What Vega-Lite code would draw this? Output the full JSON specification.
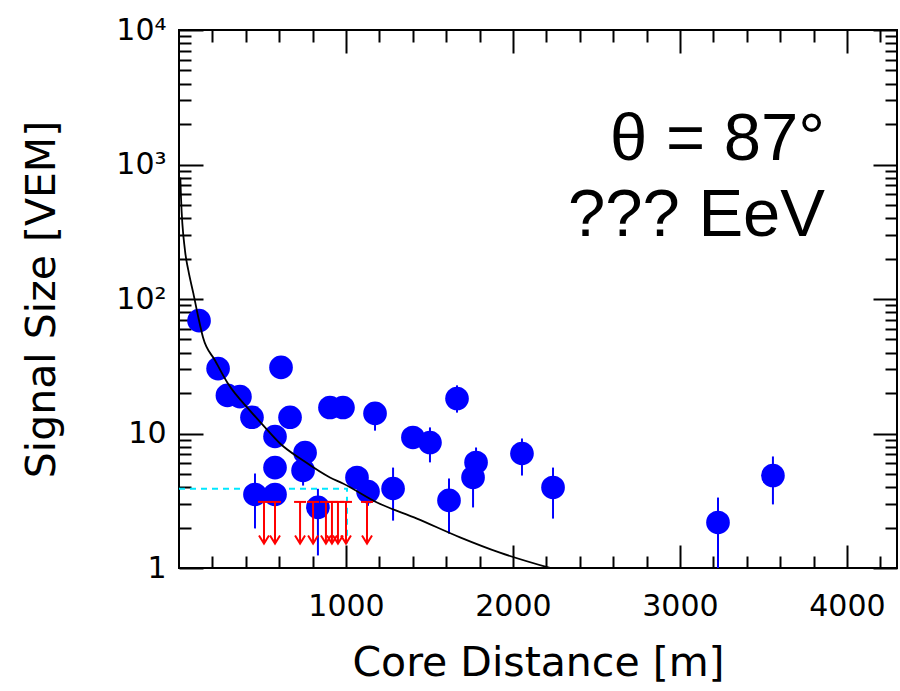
{
  "$schema": "https://vega.github.io/schema/vega-lite/v6.json",
  "width": 718,
  "height": 538,
  "autosize": {"type": "none"},
  "padding": {"left": 179, "top": 30, "right": 3, "bottom": 123},
  "background": "white",
  "config": {
    "view": {"stroke": "black", "strokeWidth": 2},
    "axis": {
      "domain": false, "grid": false, "tickColor": "black", "tickWidth": 2,
      "labelFont": "DejaVu Sans", "labelFontSize": 30, "labelColor": "black",
      "titleFont": "DejaVu Sans", "titleFontSize": 41, "titleFontWeight": "normal", "titleColor": "black",
      "labelFlush": false, "labelOverlap": false, "minExtent": 0, "maxExtent": 0
    }
  },
  "datasets": {
    "points": [
      {"x": 120, "y": 69, "lo": 63, "hi": 76},
      {"x": 234, "y": 30.4, "lo": 27.5, "hi": 33.5},
      {"x": 290, "y": 19.2, "lo": 17.2, "hi": 21.4},
      {"x": 365, "y": 18.8, "lo": 16.8, "hi": 21},
      {"x": 437, "y": 13.2, "lo": 11.6, "hi": 15},
      {"x": 611, "y": 31, "lo": 28, "hi": 34.5},
      {"x": 665, "y": 13.2, "lo": 11, "hi": 15.2},
      {"x": 904, "y": 15.6, "lo": 14, "hi": 17.4},
      {"x": 982, "y": 15.6, "lo": 14, "hi": 17.4},
      {"x": 1174, "y": 14.1, "lo": 10.5, "hi": 14.8},
      {"x": 575, "y": 9.5, "lo": 8.0, "hi": 10.8},
      {"x": 755, "y": 7.2, "lo": 6.2, "hi": 8.3},
      {"x": 1401, "y": 9.34, "lo": 7.8, "hi": 10.5},
      {"x": 1503, "y": 8.57, "lo": 6.1, "hi": 11.1},
      {"x": 1665, "y": 18.2, "lo": 14.3, "hi": 22.8},
      {"x": 1779, "y": 6.09, "lo": 5.2, "hi": 7.87},
      {"x": 1761, "y": 4.71, "lo": 2.82, "hi": 5.5},
      {"x": 2054, "y": 7.1, "lo": 4.87, "hi": 9.18},
      {"x": 2240, "y": 3.97, "lo": 2.33, "hi": 5.58},
      {"x": 1617, "y": 3.18, "lo": 1.8, "hi": 4.63},
      {"x": 1282, "y": 3.9, "lo": 2.25, "hi": 5.58},
      {"x": 1066, "y": 4.71, "lo": 4.0, "hi": 5.3},
      {"x": 1132, "y": 3.7, "lo": 2.9, "hi": 4.4},
      {"x": 575, "y": 5.58, "lo": 4.8, "hi": 6.5},
      {"x": 743, "y": 5.31, "lo": 4.1, "hi": 6.2},
      {"x": 455, "y": 3.52, "lo": 1.97, "hi": 5.04},
      {"x": 575, "y": 3.52, "lo": 3.0, "hi": 4.1},
      {"x": 832, "y": 2.82, "lo": 1.24, "hi": 3.88},
      {"x": 3228, "y": 2.18, "lo": 1.0, "hi": 3.34},
      {"x": 3557, "y": 4.87, "lo": 2.97, "hi": 6.75}
    ],
    "curve": [
      {"x": 8, "y": 800}, {"x": 12, "y": 569}, {"x": 36, "y": 229}, {"x": 56, "y": 163},
      {"x": 86, "y": 110}, {"x": 116, "y": 72.9}, {"x": 144, "y": 51.7}, {"x": 216, "y": 34.9},
      {"x": 293, "y": 23.5}, {"x": 425, "y": 14.8}, {"x": 515, "y": 11.1}, {"x": 605, "y": 8.43},
      {"x": 743, "y": 6.3}, {"x": 904, "y": 4.71}, {"x": 982, "y": 4.25}, {"x": 1186, "y": 3.07},
      {"x": 1425, "y": 2.33}, {"x": 1683, "y": 1.69}, {"x": 1922, "y": 1.3}, {"x": 2222, "y": 1.0}
    ],
    "limits": [
      {"x": 509, "top": 3.1, "bottom": 1.52},
      {"x": 575, "top": 3.1, "bottom": 1.52},
      {"x": 725, "top": 3.1, "bottom": 1.52},
      {"x": 803, "top": 3.1, "bottom": 1.52},
      {"x": 880, "top": 3.1, "bottom": 1.52},
      {"x": 916, "top": 3.1, "bottom": 1.52},
      {"x": 952, "top": 3.1, "bottom": 1.52},
      {"x": 1000, "top": 3.1, "bottom": 1.52},
      {"x": 1126, "top": 3.1, "bottom": 1.52}
    ],
    "cyan": [
      {"i": 0, "x": 0, "y": 3.88},
      {"i": 1, "x": 1006, "y": 3.88},
      {"i": 2, "x": 1006, "y": 1.52}
    ]
  },
  "resolve": {"axis": {"x": "independent", "y": "independent"}},
  "layer": [
    {
      "data": {"name": "cyan"},
      "mark": {"type": "line", "color": "#00e8ff", "strokeWidth": 2, "strokeDash": [6, 5]},
      "encoding": {
        "x": {"field": "x", "type": "quantitative", "scale": {"domain": [0, 4300], "nice": false, "zero": false},
              "axis": {"orient": "top", "values": [200,400,600,800,1200,1400,1600,1800,2200,2400,2600,2800,3200,3400,3600,3800,4200], "tickSize": -12, "labels": false, "title": null}},
        "y": {"field": "y", "type": "quantitative", "scale": {"type": "log", "domain": [1, 10000], "nice": false},
              "axis": {"orient": "right", "values": [2,3,4,5,6,7,8,9,20,30,40,50,60,70,80,90,200,300,400,500,600,700,800,900,2000,3000,4000,5000,6000,7000,8000,9000], "tickSize": -12, "labels": false, "title": null}},
        "order": {"field": "i", "type": "quantitative"}
      }
    },
    {
      "data": {"name": "points"},
      "mark": {"type": "rule", "color": "#0000ff", "strokeWidth": 2},
      "encoding": {
        "x": {"field": "x", "type": "quantitative", "scale": {"domain": [0, 4300], "nice": false, "zero": false},
              "axis": {"orient": "top", "values": [1000, 2000, 3000, 4000], "tickSize": -23, "labels": false, "title": null}},
        "y": {"field": "lo", "type": "quantitative", "scale": {"type": "log", "domain": [1, 10000], "nice": false},
              "axis": {"orient": "right", "values": [1, 10, 100, 1000, 10000], "tickSize": -24, "labels": false, "title": null}},
        "y2": {"field": "hi"}
      }
    },
    {
      "data": {"name": "points"},
      "mark": {"type": "point", "filled": true, "shape": "circle", "color": "#0000ff", "opacity": 1, "size": 560},
      "encoding": {
        "x": {"field": "x", "type": "quantitative", "scale": {"domain": [0, 4300], "nice": false, "zero": false},
              "axis": {"orient": "bottom", "values": [1000, 2000, 3000, 4000], "format": "d", "tickSize": -23, "labelPadding": 46, "title": null}},
        "y": {"field": "y", "type": "quantitative", "scale": {"type": "log", "domain": [1, 10000], "nice": false},
              "axis": {"orient": "left", "values": [1, 10, 100, 1000, 10000], "tickSize": -24, "labelPadding": 37, "title": null,
                       "labelExpr": "datum.value == 1 ? '1' : datum.value == 10 ? '10' : datum.value == 100 ? '10\u00b2' : datum.value == 1000 ? '10\u00b3' : '10\u2074'"}}
      }
    },
    {
      "data": {"name": "curve"},
      "mark": {"type": "line", "color": "black", "strokeWidth": 1.8, "interpolate": "monotone", "clip": true},
      "encoding": {
        "x": {"field": "x", "type": "quantitative", "scale": {"domain": [0, 4300], "nice": false, "zero": false},
              "axis": {"orient": "bottom", "values": [200,400,600,800,1200,1400,1600,1800,2200,2400,2600,2800,3200,3400,3600,3800,4200], "tickSize": -12, "labels": false, "title": "Core Distance [m]", "titlePadding": 75}},
        "y": {"field": "y", "type": "quantitative", "scale": {"type": "log", "domain": [1, 10000], "nice": false},
              "axis": {"orient": "left", "values": [2,3,4,5,6,7,8,9,20,30,40,50,60,70,80,90,200,300,400,500,600,700,800,900,2000,3000,4000,5000,6000,7000,8000,9000], "tickSize": -12, "labels": false, "title": "Signal Size [VEM]", "titlePadding": 116}}
      }
    },
    {
      "data": {"name": "limits"},
      "mark": {"type": "rule", "color": "#ff0000", "strokeWidth": 2},
      "encoding": {
        "x": {"field": "x", "type": "quantitative", "axis": null},
        "y": {"field": "top", "type": "quantitative", "axis": null},
        "y2": {"field": "bottom"}
      }
    },
    {
      "data": {"name": "limits"},
      "mark": {"type": "point", "shape": "M-1,0L1,0", "filled": false, "color": "#ff0000", "strokeWidth": 2, "opacity": 1, "size": 144},
      "encoding": {
        "x": {"field": "x", "type": "quantitative", "axis": null},
        "y": {"field": "top", "type": "quantitative", "axis": null}
      }
    },
    {
      "data": {"name": "limits"},
      "mark": {"type": "point", "shape": "M-1,-1.6L0,0L1,-1.6", "filled": false, "color": "#ff0000", "strokeWidth": 2, "opacity": 1, "size": 100},
      "encoding": {
        "x": {"field": "x", "type": "quantitative", "axis": null},
        "y": {"field": "bottom", "type": "quantitative", "axis": null}
      }
    },
    {
      "data": {"values": [{"x": 3869, "y": 1071, "t": ["\u03b8 = 87\u00b0", "??? EeV"]}]},
      "mark": {"type": "text", "font": "Liberation Sans", "fontSize": 67, "lineHeight": 76, "align": "right", "baseline": "alphabetic", "color": "black"},
      "encoding": {
        "x": {"field": "x", "type": "quantitative", "axis": null},
        "y": {"field": "y", "type": "quantitative", "axis": null},
        "text": {"field": "t"}
      }
    }
  ]
}
